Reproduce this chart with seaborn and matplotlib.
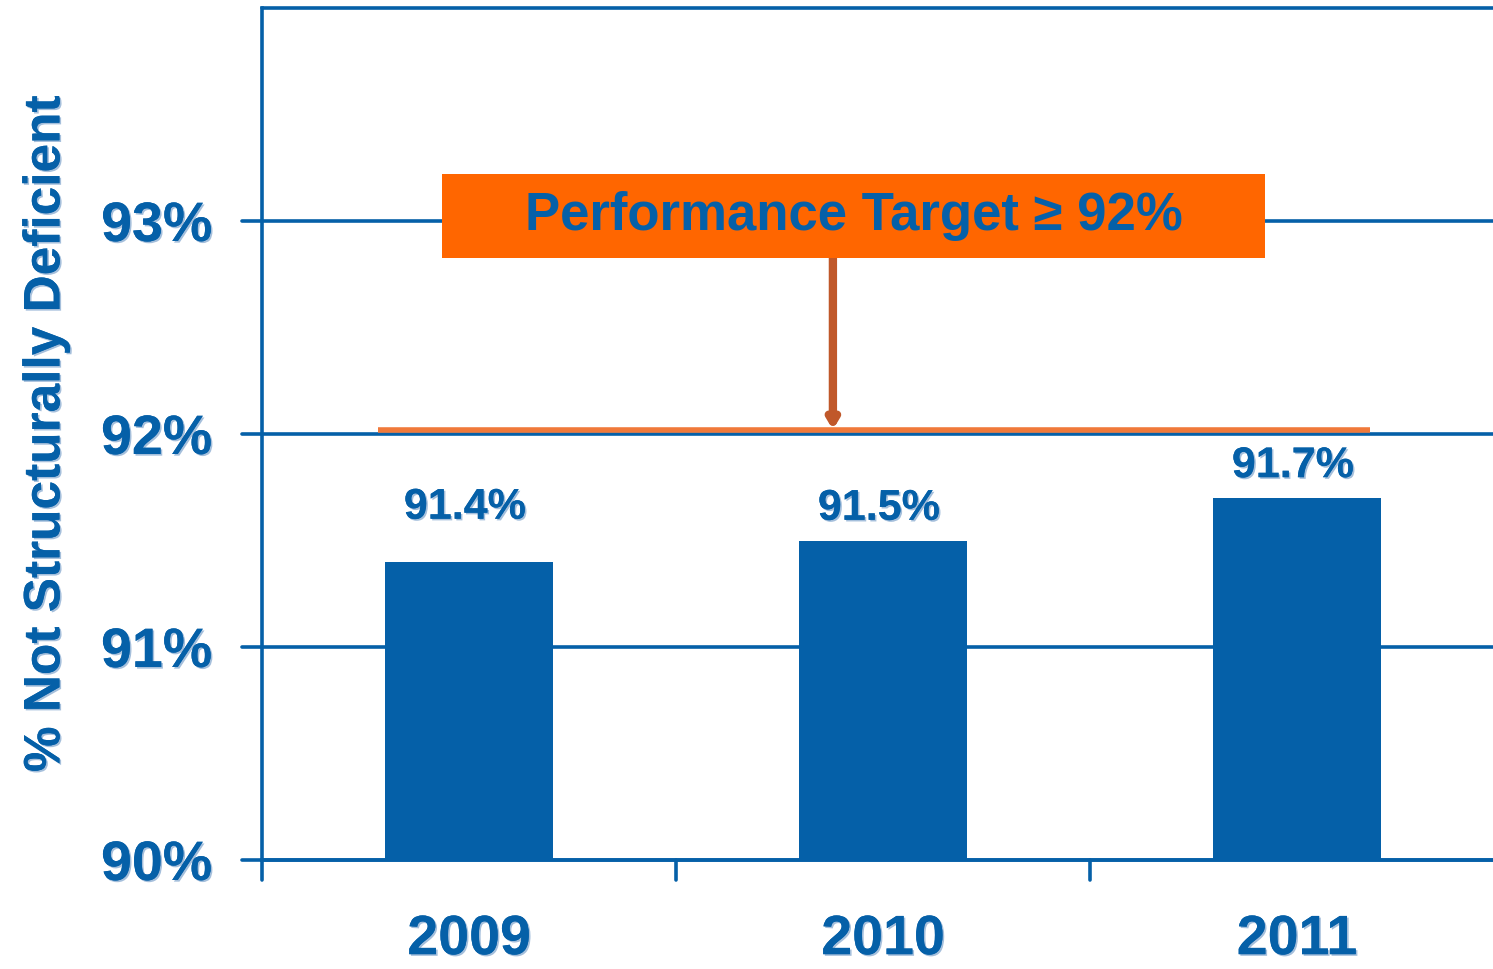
import numpy as np
import pandas as pd
import matplotlib
matplotlib.use("Agg")
import matplotlib.pyplot as plt
import matplotlib.patheffects as pe
from matplotlib.patches import Rectangle
import seaborn as sns

# -----------------------------------------------------
# DATA
# -----------------------------------------------------
years = ["2009", "2010", "2011"]
pct_not_deficient = [91.4, 91.5, 91.7]
bar_labels = ["91.4%", "91.5%", "91.7%"]
target = 92.0
y_ticks = [90, 91, 92, 93, 94]
y_tick_labels = ["90%", "91%", "92%", "93%", ""]

BLUE = "#0560A8"
ORANGE = "#FF6600"
LINE_ORANGE = "#F0793A"
ARROW = "#C0582A"

df = pd.DataFrame({"year": years, "pct": pct_not_deficient})

sns.set_style("white")
plt.rcParams["font.family"] = ["Liberation Sans", "DejaVu Sans"]

fig = plt.figure(figsize=(14.93, 9.70), dpi=100)
ax = fig.add_axes([262 / 1493, 109 / 970, 1242 / 1493, 852 / 970])

# gridlines behind bars
for yv in y_ticks:
    ax.axhline(yv, color=BLUE, lw=2.6, zorder=0, clip_on=False)

sns.barplot(data=df, x="year", y="pct", color=BLUE, saturation=1,
            width=0.405, ax=ax, zorder=2)
for p in ax.patches:
    p.set_edgecolor("none")

ax.set_xlim(-0.5, 2.5)
ax.set_ylim(90, 94)

shadow = [pe.withSimplePatchShadow(offset=(1.2, -1.2), shadow_rgbFace="#9bb8d8", alpha=0.9), pe.Normal()]

# value labels (2009 label sits a bit higher, as in the original)
label_offsets = [0.16, 0.055, 0.055]
for i, (v, lab) in enumerate(zip(pct_not_deficient, bar_labels)):
    ax.text(i - 0.01, v + label_offsets[i], lab, ha="center", va="bottom", color=BLUE,
            fontsize=31, fontweight="bold", path_effects=shadow, zorder=4)

# target line
ax.plot([-0.22, 2.176], [target + 0.017, target + 0.017], color=LINE_ORANGE,
        lw=4, solid_capstyle="butt", zorder=3)

# target box
ax.add_patch(Rectangle((-0.065, 92.826), 1.988, 0.394, facecolor=ORANGE,
                       edgecolor="none", zorder=5))
ax.text(0.93, 93.03, "Performance Target \u2265 92%", ha="center", va="center",
        color=BLUE, fontsize=38, fontweight="bold", zorder=6)

# arrow from box to line
ax.annotate("", xy=(0.879, target + 0.02), xytext=(0.879, 92.826),
            arrowprops=dict(arrowstyle="-|>,head_length=0.5,head_width=0.3",
                            color=ARROW, lw=6, shrinkA=0, shrinkB=0),
            zorder=4)

# axes styling
ax.set_yticks(y_ticks)
ax.set_yticklabels(y_tick_labels)
ax.set_xticks([0, 1, 2])
ax.set_xticklabels(years)
ax.tick_params(axis="y", length=0, pad=36, labelsize=40, labelcolor=BLUE)
ax.tick_params(axis="x", length=0, pad=39, labelsize=40, labelcolor=BLUE)
for t in ax.get_yticklabels() + ax.get_xticklabels():
    t.set_fontweight("bold")
    t.set_path_effects(shadow)

# outward tick marks: y at gridlines, x at category boundaries
for yv in y_ticks[:-1]:
    ax.plot([-0.5 - 20 / 414, -0.5], [yv, yv], color=BLUE, lw=2.6,
            clip_on=False, zorder=1)
for xb in [-0.5, 0.5, 1.5]:
    ax.plot([xb, xb], [90, 90 - 20 / 213.7], color=BLUE, lw=2.6,
            clip_on=False, zorder=1)

for side in ["top", "right"]:
    ax.spines[side].set_visible(False)
ax.spines["left"].set_color(BLUE)
ax.spines["left"].set_linewidth(2.6)
ax.spines["bottom"].set_color(BLUE)
ax.spines["bottom"].set_linewidth(2.6)

ax.set_xlabel("")
ax.set_ylabel("% Not Structurally Deficient", color=BLUE, fontsize=37,
              fontweight="bold", labelpad=22)
ax.yaxis.label.set_path_effects(shadow)

fig.savefig("out.png", dpi=100)
